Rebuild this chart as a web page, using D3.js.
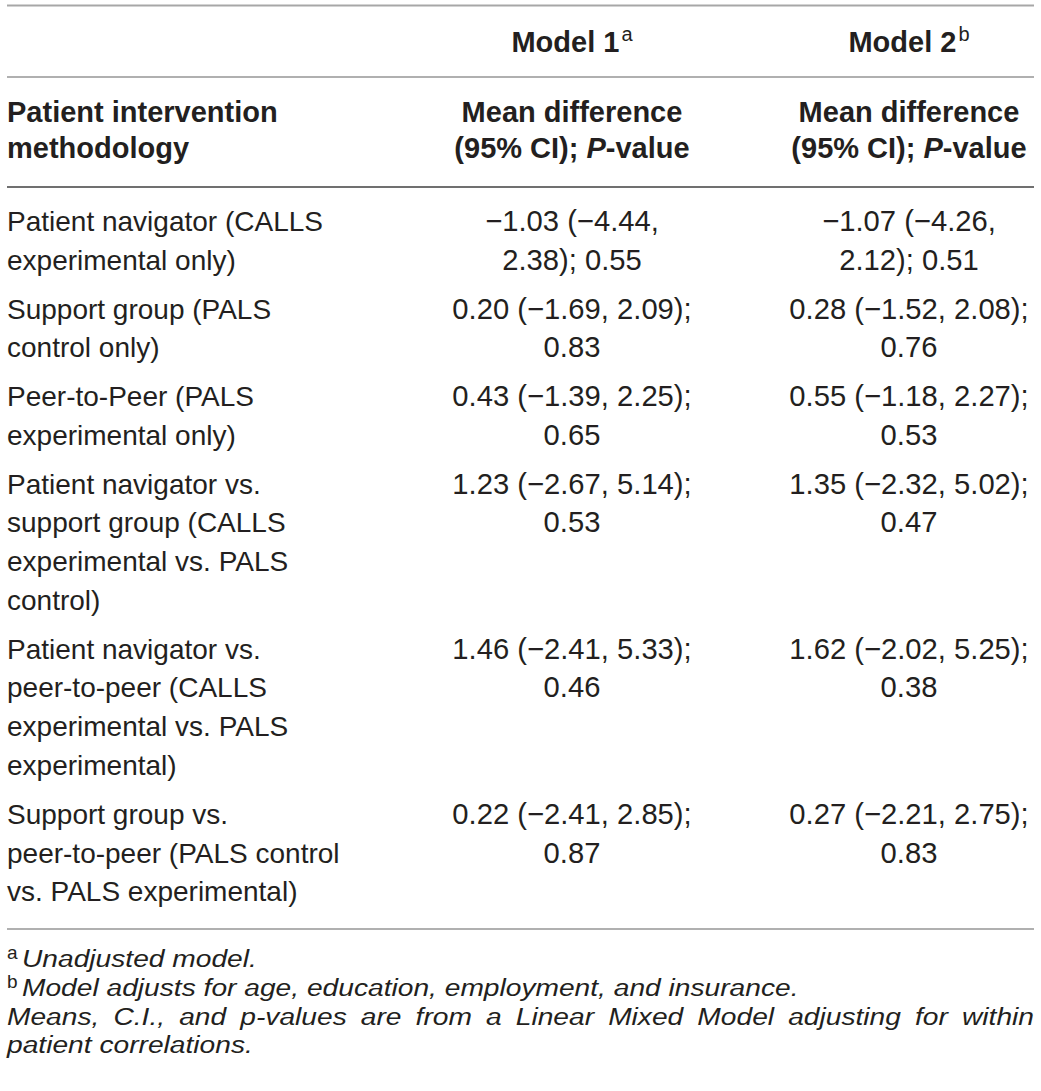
<!DOCTYPE html>
<html>
<head>
<meta charset="utf-8">
<script src="https://cdn.jsdelivr.net/npm/d3@7"></script>
<style>
  body { margin: 0; background: #fff; }
  text { font-family: "Liberation Sans", Arial, sans-serif; fill: #231f20; }
</style>
</head>
<body>
<div id="chart-container"></div>
<script>
// table content
const methods = [
    "Patient navigator (CALLS experimental only)",
    "Support group (PALS control only)",
    "Peer-to-Peer (PALS experimental only)",
    "Patient navigator vs. support group (CALLS experimental vs. PALS control)",
    "Patient navigator vs. peer-to-peer (CALLS experimental vs. PALS experimental)",
    "Support group vs. peer-to-peer (PALS control vs. PALS experimental)"
]
const model1Mean = [-1.03, 0.20, 0.43, 1.23, 1.46, 0.22]
const model1Lo = [-4.44, -1.69, -1.39, -2.67, -2.41, -2.41]
const model1Hi = [2.38, 2.09, 2.25, 5.14, 5.33, 2.85]
const model1P = [0.55, 0.83, 0.65, 0.53, 0.46, 0.87]
const model2Mean = [-1.07, 0.28, 0.55, 1.35, 1.62, 0.27]
const model2Lo = [-4.26, -1.52, -1.18, -2.32, -2.02, -2.21]
const model2Hi = [2.12, 2.08, 2.27, 5.02, 5.25, 2.75]
const model2P = [0.51, 0.76, 0.53, 0.47, 0.38, 0.83]
const modelNames = ["Model 1", "Model 2"]
const modelMarks = ["a", "b"]
const rowHeader = ["Patient intervention", "methodology"]
const footMarks = ["a", "b", ""]
const footnotes = [
    "Unadjusted model.",
    "Model adjusts for age, education, employment, and insurance.",
    "Means, C.I., and p-values are from a Linear Mixed Model adjusting for within patient correlations."
]

document.addEventListener('DOMContentLoaded', function(){

    const width = 1041
    const height = 1091
    const left = 7, right = 1034
    const labelFs = 28
    const numFs = 29.2
    const headFs = 29
    const lineH = 38.8
    const rowGap = 9.9

    const svg = d3.select('#chart-container')
        .append('svg')
        .attr('width', width)
        .attr('height', height)

    const fmt = d3.format('.2f')

    // measure helper
    const probe = svg.append('text').attr('x', -1000).attr('y', -1000)
    function textW(s, size, style) {
        probe.attr('font-size', size).attr('font-style', style || 'normal').text(s)
        return probe.node().getComputedTextLength()
    }
    function wrap(s, maxW, size, style) {
        const words = s.split(' ')
        const lines = []
        let cur = ''
        words.forEach(w => {
            const test = cur ? cur + ' ' + w : w
            if (cur && textW(test, size, style) > maxW) {
                lines.push(cur)
                cur = w
            } else cur = test
        })
        if (cur) lines.push(cur)
        return lines
    }

    const rows = methods.map((m, i) => ({
        label: wrap(m, 345, labelFs),
        m1: wrap(`${fmt(model1Mean[i])} (${fmt(model1Lo[i])}, ${fmt(model1Hi[i])}); ${fmt(model1P[i])}`, 248, numFs),
        m2: wrap(`${fmt(model2Mean[i])} (${fmt(model2Lo[i])}, ${fmt(model2Hi[i])}); ${fmt(model2P[i])}`, 248, numFs)
    }))

    // columns
    const col = d3.scaleOrdinal()
        .domain(['m1', 'm2'])
        .range([572, 909])

    // vertical positions: first baseline of each row
    let y0 = 231
    rows.forEach(r => {
        r.n = Math.max(r.label.length, r.m1.length, r.m2.length)
        r.y = y0
        y0 += r.n * lineH + rowGap
    })

    // rules
    const rules = [
        {y: 5.5, c: '#a7a7a7'},
        {y: 77, c: '#b0b0b0'},
        {y: 187, c: '#707070'},
        {y: 929, c: '#b0b0b0'}
    ]
    svg.append('g').selectAll('line')
        .data(rules)
        .join('line')
        .attr('x1', left).attr('x2', right)
        .attr('y1', d => d.y).attr('y2', d => d.y)
        .attr('stroke', d => d.c)
        .attr('stroke-width', 2)

    // header row 1: model names
    const mh = svg.append('g').selectAll('text')
        .data(modelNames)
        .join('text')
        .attr('x', (d, i) => col(['m1', 'm2'][i]))
        .attr('y', 52)
        .attr('text-anchor', 'middle')
        .attr('font-size', headFs)
        .attr('font-weight', 'bold')
    mh.append('tspan').text(d => d)
    mh.append('tspan')
        .attr('font-size', 20)
        .attr('font-weight', 'normal')
        .attr('dx', 2)
        .attr('dy', -11)
        .text((d, i) => modelMarks[i])

    // header row 2
    svg.append('g').selectAll('text')
        .data(rowHeader)
        .join('text')
        .attr('x', left)
        .attr('y', (d, i) => 122 + i * 35.5)
        .attr('font-size', headFs)
        .attr('font-weight', 'bold')
        .text(d => d)

    ;['m1', 'm2'].forEach(k => {
        const g = svg.append('g')
        g.append('text')
            .attr('x', col(k)).attr('y', 122)
            .attr('text-anchor', 'middle')
            .attr('font-size', headFs).attr('font-weight', 'bold')
            .text('Mean difference')
        const t = g.append('text')
            .attr('x', col(k)).attr('y', 157.5)
            .attr('text-anchor', 'middle')
            .attr('font-size', headFs).attr('font-weight', 'bold')
        t.append('tspan').text('(95% CI); ')
        t.append('tspan').attr('font-style', 'italic').text('P')
        t.append('tspan').text('-value')
    })

    // body
    const body = svg.append('g')
    rows.forEach(r => {
        body.append('g').selectAll('text')
            .data(r.label)
            .join('text')
            .attr('x', left)
            .attr('y', (d, j) => r.y + j * lineH)
            .attr('font-size', labelFs)
            .text(d => d)
        ;['m1', 'm2'].forEach(k => {
            body.append('g').selectAll('text')
                .data(r[k])
                .join('text')
                .attr('x', col(k))
                .attr('y', (d, j) => r.y + j * lineH)
                .attr('text-anchor', 'middle')
                .attr('font-size', numFs)
                .text(d => d)
        })
    })

    // footnotes: narrow light italic in the source, so a smaller size stretched sideways
    const ffs = 24.5
    const hScale = 1.15
    const footLineH = 28.8
    const indent = 22
    const foot = svg.append('g')
    function footText(s, x, y) {
        foot.append('text')
            .attr('transform', `translate(${x},${y}) scale(${hScale},1)`)
            .attr('font-size', ffs).attr('font-style', 'italic')
            .text(s)
    }
    let fy = 967
    footnotes.forEach((f, i) => {
        const x0 = footMarks[i] ? indent : left
        const lines = wrap(f, (right - x0) / hScale, ffs, 'italic')
        lines.forEach((ln, j) => {
            if (footMarks[i] && j === 0) {
                foot.append('text')
                    .attr('x', left).attr('y', fy - 8)
                    .attr('font-size', 19)
                    .text(footMarks[i])
            }
            const words = ln.split(' ')
            const isLast = j === lines.length - 1
            if (isLast || words.length < 2) {
                footText(ln, x0, fy)
            } else {
                // justified line
                const ws = words.map(w => textW(w, ffs, 'italic') * hScale)
                const gap = (right - x0 - d3.sum(ws)) / (words.length - 1)
                let x = x0
                words.forEach((w, k) => {
                    footText(w, x, fy)
                    x += ws[k] + gap
                })
            }
            fy += footLineH
        })
    })

    probe.remove()
})
</script>
</body>
</html>
